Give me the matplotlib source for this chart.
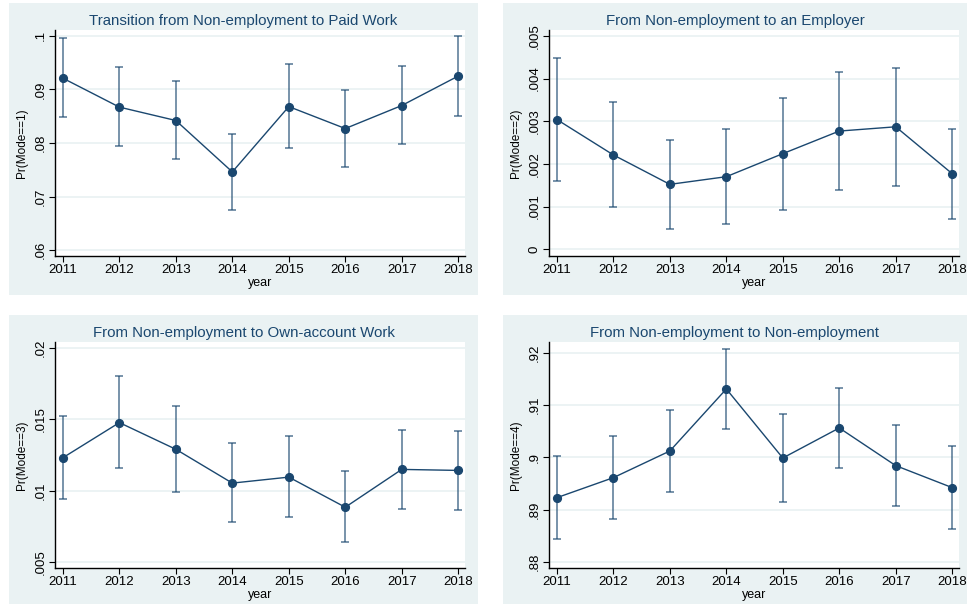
import numpy as np
import matplotlib
matplotlib.use('Agg')
import matplotlib.pyplot as plt
from matplotlib.patches import Rectangle

plt.rcParams['font.family'] = ['Liberation Sans', 'DejaVu Sans']

years = [2011, 2012, 2013, 2014, 2015, 2016, 2017, 2018]

# Pr(Mode==1) paid work
paid = [.0921, .0867, .0842, .0746, .0868, .0827, .0870, .0925]
paid_hi = [.0996, .0941, .0915, .0817, .0947, .0899, .0943, .0999]
paid_lo = [.0848, .0795, .0770, .0675, .0790, .0755, .0798, .0850]

# Pr(Mode==2) employer
empl = [.00304, .00221, .00152, .00170, .00224, .00277, .00287, .00177]
empl_hi = [.00448, .00345, .00255, .00283, .00355, .00416, .00426, .00283]
empl_lo = [.00159, .00098, .00048, .00060, .00092, .00139, .00149, .00071]

# Pr(Mode==3) own-account
own = [.01231, .01477, .01290, .01053, .01095, .00884, .01149, .01142]
own_hi = [.01522, .01801, .01595, .01334, .01386, .01138, .01428, .01421]
own_lo = [.00941, .01158, .00993, .00778, .00812, .00638, .00875, .00868]

# Pr(Mode==4) non-employment
nonemp = [.89231, .89614, .90124, .91311, .89990, .90565, .89844, .89423]
nonemp_hi = [.90029, .90405, .90915, .92077, .90826, .91337, .90628, .90214]
nonemp_lo = [.88434, .88829, .89346, .90552, .89155, .89799, .89072, .88632]

titles = ['Transition from Non-employment to Paid Work',
          'From Non-employment to an Employer',
          'From Non-employment to Own-account Work',
          'From Non-employment to Non-employment']
ylabels = ['Pr(Mode==1)', 'Pr(Mode==2)', 'Pr(Mode==3)', 'Pr(Mode==4)']
yticks = [[.06, .07, .08, .09, .1],
          [0, .001, .002, .003, .004, .005],
          [.005, .01, .015, .02],
          [.88, .89, .9, .91, .92]]
ytick_labels = [['.06', '.07', '.08', '.09', '.1'],
                ['0', '.001', '.002', '.003', '.004', '.005'],
                ['.005', '.01', '.015', '.02'],
                ['.88', '.89', '.9', '.91', '.92']]
ylims = [(.0589, .1011), (-0.00016, 0.00514), (.00458, .02042), (.87885, .9221)]
series = [(paid, paid_lo, paid_hi), (empl, empl_lo, empl_hi),
          (own, own_lo, own_hi), (nonemp, nonemp_lo, nonemp_hi)]

W, H = 967, 605
navy = '#1a476f'
bg = '#eaf2f3'

# pixel boxes: (background x0, y0, x1, y1), (plot x0, y0, x1, y1)
boxes = [((9, 3, 478, 295), (55, 30, 465, 256)),
         ((503, 3, 967, 295), (549, 30, 959, 256)),
         ((9, 315, 478, 604), (55, 342, 465, 568)),
         ((503, 315, 967, 604), (549, 342, 959, 568))]

fig = plt.figure(figsize=(W / 100, H / 100), dpi=100)
fig.patch.set_facecolor('white')

for i in range(4):
    (bx0, by0, bx1, by1), (px0, py0, px1, py1) = boxes[i]
    fig.add_artist(Rectangle((bx0 / W, 1 - by1 / H), (bx1 - bx0) / W, (by1 - by0) / H,
                             transform=fig.transFigure, facecolor=bg, edgecolor='none', zorder=0))
    ax = fig.add_axes([px0 / W, 1 - py1 / H, (px1 - px0) / W, (py1 - py0) / H])
    ax.set_facecolor('white')
    ax.set_zorder(1)

    y, lo, hi = series[i]
    y = np.array(y)
    err = [y - np.array(lo), np.array(hi) - y]
    ax.errorbar(years, y, yerr=err, fmt='none', ecolor=navy, alpha=0.75,
                elinewidth=1.1, capsize=3, capthick=1.1, zorder=2)
    ax.plot(years, y, '-o', color=navy, lw=1, markersize=5.6, zorder=3)

    ax.set_xlim(2010.86, 2018.12)
    ax.set_ylim(*ylims[i])
    ax.set_xticks(years)
    ax.set_xticklabels([str(v) for v in years], fontsize=9.5)
    ax.set_yticks(yticks[i])
    ax.set_yticklabels(ytick_labels[i], fontsize=9.5, rotation=90, va='center')
    ax.tick_params(axis='both', direction='out', length=4, width=0.8, pad=2, colors='black')
    ax.grid(axis='y', color=bg, lw=1.3)
    ax.set_axisbelow(True)
    for s in ['top', 'right']:
        ax.spines[s].set_visible(False)
    for s in ['left', 'bottom']:
        ax.spines[s].set_linewidth(1)
        ax.spines[s].set_color('black')

    ax.set_ylabel(ylabels[i], fontsize=8.5)
    ax.yaxis.set_label_coords(-0.066, 0.5)
    ax.set_xlabel('year', fontsize=9)
    ax.xaxis.set_label_coords(0.5, -0.095)

    fig.text((bx0 + bx1) / 2 / W, 1 - (by0 + 18) / H, titles[i], ha='center', va='center',
             fontsize=10.8, color=navy)

fig.savefig('out.png', dpi=100)
